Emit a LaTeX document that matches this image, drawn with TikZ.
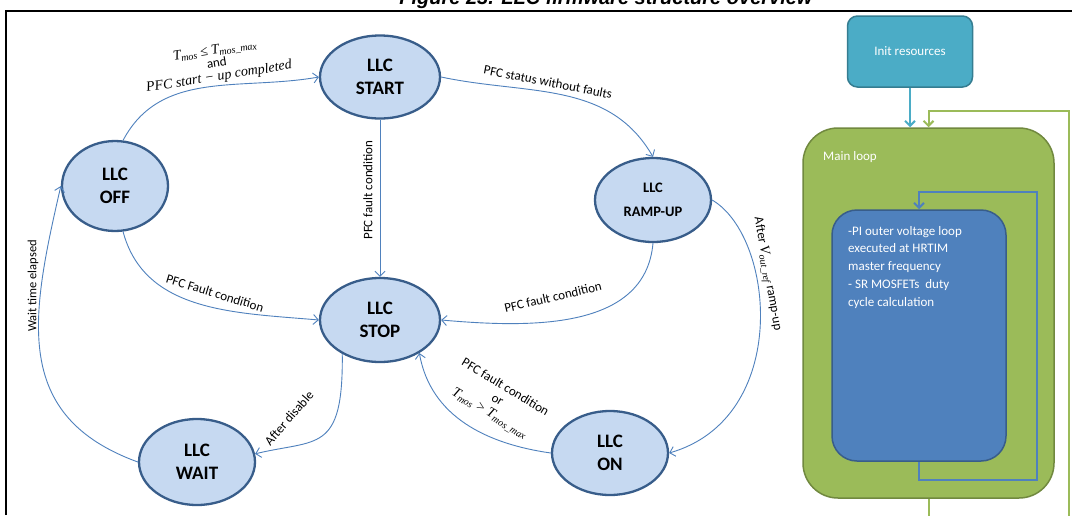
\documentclass[tikz,border=0pt]{standalone}
\usepackage{fontspec}
\setmainfont{Carlito}
\newfontfamily\titlefont{Liberation Sans}
\newfontfamily\mathserif{Liberation Serif}
\usetikzlibrary{shapes.geometric,arrows.meta,calc}

\definecolor{statefill}{HTML}{C6D9F1}
\definecolor{stateedge}{HTML}{385D8A}
\definecolor{linkblue}{HTML}{4F81BD}
\definecolor{initfill}{HTML}{4BACC6}
\definecolor{initedge}{HTML}{357D91}
\definecolor{loopfill}{HTML}{9BBB59}
\definecolor{loopedge}{HTML}{71893F}
\definecolor{taskfill}{HTML}{4F81BD}
\definecolor{taskedge}{HTML}{385D8A}

% italic serif used for the symbolic conditions, with lowered indices
\newcommand\symtxt[1]{{\mathserif\itshape\fontsize{14}{14}\selectfont #1}}
\newcommand\lowidx[1]{\raisebox{-0.35ex}{\fontsize{10}{10}\selectfont #1}}

\begin{document}
\begin{tikzpicture}[x=1pt,y=1pt,
  state/.style={ellipse, draw=stateedge, line width=2.3pt, fill=statefill,
    inner sep=0pt, minimum width=118pt, minimum height=84pt, align=center,
    font=\fontsize{19}{23}\selectfont\bfseries},
  link/.style={draw=linkblue, line width=0.9pt,
    -{Straight Barb[length=5pt,width=10pt]}},
  lbl/.style={font=\fontsize{13}{14}\selectfont, inner sep=0pt, align=center},
  block/.style={line width=1.5pt, inner sep=0pt},
  flow/.style={line width=2pt, -{Straight Barb[length=5pt,width=10pt]}},
  boxtext/.style={text=white, inner sep=0pt, align=left,
    font=\fontsize{13}{17.7}\selectfont}
]
\useasboundingbox (0,0) rectangle (1072,-515);
\fill[white] (0,0) rectangle (1072,-515);
\clip (0,0) rectangle (1072,-515);

% caption and frame
\node[font=\titlefont\bfseries\itshape\fontsize{20}{24}\selectfont, anchor=base]
  (title) at (606,-4) {Figure 23. LLC firmware structure overview};
\draw[line width=2pt] (6,-515) -- (6,-11) -- (1072,-11);

% state machine
\node[state, minimum width=120pt, minimum height=83pt] (start) at (380,-77) {LLC\\START};
\node[state, minimum width=106pt, minimum height=90pt] (off) at (115,-186) {LLC\\OFF};
\node[state, minimum width=120pt, minimum height=84pt] (stop) at (380,-320) {LLC\\STOP};
\node[state, minimum width=116pt, minimum height=84pt,
      font=\fontsize{14.5}{24}\selectfont\bfseries] (ramp) at (653,-200) {LLC\\RAMP-UP};
\node[state, minimum width=116pt, minimum height=86pt] (wait) at (197,-462) {LLC\\WAIT};
\node[state, minimum width=116pt, minimum height=84pt] (on) at (610,-453) {LLC\\ON};

\draw[link] (off.80) to[out=62,in=190] (start.west);
\draw[link] (start.east) to[out=-12,in=120] (ramp.north);
\draw[link] (start.south) -- (stop.north);
\draw[link] (off.-80) to[out=-75,in=175] (stop.west);
\draw[link] (ramp.south) to[out=-95,in=-5] (stop.east);
\draw[link] (ramp.east) .. controls +(63,-37) and +(122,35) .. (on.east);
\draw[link] (on.west) to[out=172,in=-80] (stop.-40);
\draw[link] (stop.-138) .. controls +(1,-100) and +(62,15) .. (wait.8);
\draw[link] (wait.west) to[out=160,in=-103,looseness=1.2] (off.west);

\node[lbl, rotate=9, font=\fontsize{13}{13}\selectfont] (lblstart) at (217,-64)
  {\symtxt{T\lowidx{mos} ≤ T\lowidx{mos\_max}}\\and\\[1pt]\symtxt{PFC start − up completed}};
\node[lbl, rotate=-11] (lblramp) at (548,-82) {PFC status without faults};
\node[lbl, rotate=90] (lblfault) at (368,-190) {PFC fault condition};
\node[lbl, rotate=-17] (lbloff) at (215,-293) {PFC Fault condition};
\node[lbl, rotate=13] (lblrampstop) at (553,-297) {PFC fault condition};
\node[lbl, rotate=-80] (lblon) at (767,-274) {After \symtxt{V\lowidx{out\_ref}} ramp-up};
\node[lbl, rotate=-31, font=\fontsize{13}{15}\selectfont] (lblonstop) at (497,-401)
  {PFC fault condition\\or\\\symtxt{T\lowidx{mos} > T\lowidx{mos\_max}}};
\node[lbl, rotate=49] (lbldisable) at (289,-418) {After disable};
\node[lbl, rotate=90, font=\fontsize{12.5}{14}\selectfont] (lblwait) at (33,-286) {Wait time elapsed};

% firmware structure
\node[block, draw=initedge, fill=initfill, rounded corners=10pt,
      minimum width=125pt, minimum height=71pt, text=white,
      font=\fontsize{13}{15}\selectfont] (init) at (910,-51.5) {Init resources};
\node[block, draw=loopedge, fill=loopfill, rounded corners=35pt,
      minimum width=251pt, minimum height=370pt] (mainloop) at (928.5,-313) {};
\node[block, draw=taskedge, fill=taskfill, rounded corners=25pt,
      minimum width=174pt, minimum height=251pt] (task) at (919,-335.5) {};
\node[boxtext, anchor=base west] (looptitle) at (823,-160) {Main loop};
\node[boxtext, anchor=north west] (tasktext) at (848,-226)
  {-PI outer voltage loop\\executed at HRTIM\\master frequency\\- SR MOSFETs\ \ duty\\cycle calculation};

\coordinate (greencorner) at (1069,-111);
\coordinate (bluecorner) at (1037,-192);
\draw[flow, initfill] (init.south) -- (init.south |- mainloop.north);
\draw[flow, loopfill] (mainloop.south) -- ++(0,-40) -| (greencorner) -| (mainloop.north);
\draw[flow, taskfill] (task.south) -- ++(0,-18) -| (bluecorner) -| (task.north);
\end{tikzpicture}
\end{document}
